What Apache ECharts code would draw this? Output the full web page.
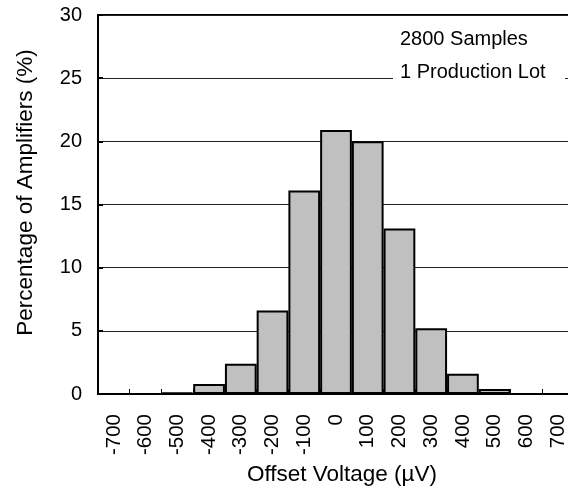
<!DOCTYPE html>
<html>
<head>
<meta charset="utf-8">
<script src="https://cdn.jsdelivr.net/npm/echarts@6/dist/echarts.min.js"></script>
<style>html,body{margin:0;padding:0;background:#fff;}#c{width:568px;height:488px;}</style>
</head>
<body>
<div id="c"></div>
<script>
const categories = ['-700','-600','-500','-400','-300','-200','-100','0','100','200','300','400','500','600','700'];
const percentages = [0, 0, 0.1, 0.8, 2.4, 6.6, 16.1, 20.9, 20.0, 13.1, 5.2, 1.6, 0.4, 0, 0];
const yTicks = [0, 5, 10, 15, 20, 25, 30];
const annotation = ['2800 Samples', '1 Production Lot'];
const xTitle = 'Offset Voltage (µV)';
const yTitle = 'Percentage of Amplifiers (%)';

const FONT = 'Liberation Sans, Arial, sans-serif';
const chart = echarts.init(document.getElementById('c'), null, {renderer: 'canvas'});
chart.setOption({
  animation: false,
  backgroundColor: '#fff',
  grid: {left: 98, top: 15, width: 476, height: 379, outerBoundsMode: 'none', containLabel: false, show: true, borderColor: '#000', borderWidth: 2, backgroundColor: 'transparent'},
  xAxis: {
    type: 'category',
    data: categories,
    boundaryGap: true,
    axisLine: {lineStyle: {color: '#000', width: 2}},
    axisTick: {show: true, inside: true, length: 5, alignWithLabel: false, lineStyle: {color: '#000', width: 1}},
    axisLabel: {rotate: 90, margin: 20, color: '#000', fontSize: 20.5, fontFamily: FONT, interval: 0},
    name: xTitle,
    nameLocation: 'middle',
    nameGap: 59,
    nameTextStyle: {color: '#000', fontSize: 22.5, fontFamily: FONT, padding: [0, 0, 0, 12]}
  },
  yAxis: {
    type: 'value',
    min: yTicks[0],
    max: yTicks[yTicks.length - 1],
    interval: yTicks[1] - yTicks[0],
    axisLine: {show: true, lineStyle: {color: '#000', width: 2}},
    axisTick: {show: true, inside: true, length: 5, lineStyle: {color: '#000', width: 2}},
    axisLabel: {margin: 16, color: '#000', fontSize: 20, fontFamily: FONT},
    splitLine: {show: true, lineStyle: {color: '#222', width: 1}},
    name: yTitle,
    nameLocation: 'middle',
    nameGap: 61,
    nameTextStyle: {color: '#000', fontSize: 22.5, fontFamily: FONT, padding: [0, 0, 0, 24]}
  },
  series: [{
    type: 'bar',
    data: percentages,
    barCategoryGap: '0%',
    itemStyle: {color: '#c0c0c0', borderColor: '#000', borderWidth: 2}
  }],
  graphic: [
    {type: 'rect', z: 100, shape: {x: 393, y: 22, width: 172, height: 62}, style: {fill: '#fff'}},
    {type: 'text', z: 101, x: 400, y: 29, style: {text: annotation[0], fill: '#000', font: '20px ' + FONT}},
    {type: 'text', z: 101, x: 400, y: 62, style: {text: annotation[1], fill: '#000', font: '20px ' + FONT}}
  ]
});
</script>
</body>
</html>
